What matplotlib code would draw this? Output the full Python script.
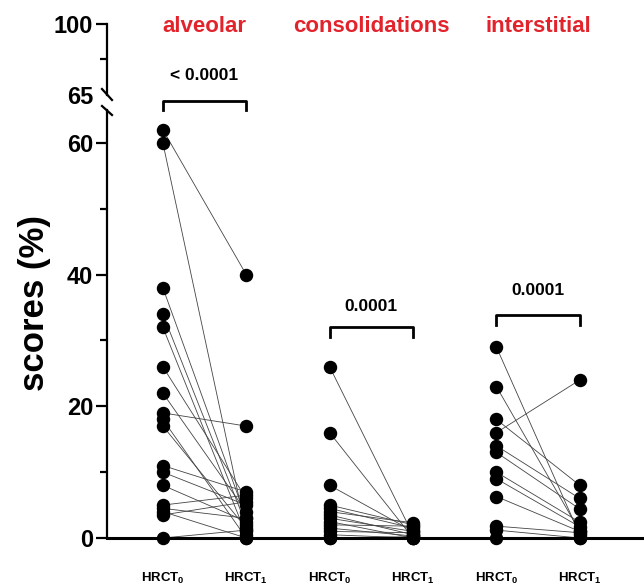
import matplotlib.pyplot as plt
from matplotlib.lines import Line2D
from matplotlib.transforms import blended_transform_factory

plt.rcParams['font.family'] = 'Liberation Sans'
plt.rcParams['font.weight'] = 'bold'
plt.rcParams['axes.labelweight'] = 'bold'
plt.rcParams['mathtext.fontset'] = 'custom'
plt.rcParams['mathtext.rm'] = 'Liberation Sans:bold'
plt.rcParams['mathtext.bf'] = 'Liberation Sans:bold'
plt.rcParams['mathtext.it'] = 'Liberation Sans:bold'

# Paired HRCT scores (%) per patient, before (0) and after (1)
groups = ['alveolar', 'consolidations', 'interstitial']
tick_labels = [r'HRCT$_0$', r'HRCT$_1$'] * 3
p_values = ['< 0.0001', '0.0001', '0.0001']

alveolar_t0 = [62, 60, 38, 34, 32, 26, 22, 19, 18, 17, 11, 10, 8, 5, 4.5, 4, 3.5, 0]
alveolar_t1 = [40, 1, 3, 2, 0.5, 6, 4, 17, 0, 1.5, 7, 5, 2.5, 6.5, 3, 0, 5.5, 1.2]

consolidations_t0 = [26, 16, 8, 5, 4.5, 4, 3.5, 3, 2.5, 2, 1.5, 1, 0.5, 0, 0]
consolidations_t1 = [0.5, 0, 1, 2, 1.5, 2.3, 0.5, 1, 0, 1.8, 0.3, 0.8, 0, 0.2, 0]

interstitial_t0 = [29, 23, 18, 16, 14, 13, 10, 9, 6.3, 1.8, 1.2, 0]
interstitial_t1 = [0.5, 1, 8, 24, 6, 4.4, 2.4, 1.7, 1, 0.8, 0, 0]

pairs = [(alveolar_t0, alveolar_t1),
         (consolidations_t0, consolidations_t1),
         (interstitial_t0, interstitial_t1)]

W, H = 644, 587
fig = plt.figure(figsize=(W / 100, H / 100), dpi=100)

left = 107 / W
ax = fig.add_axes([left, 1 - 538 / H, 1 - left, (538 - 110) / H])
ax_top = fig.add_axes([left, 1 - 95 / H, 1 - left, (95 - 24) / H])

# paired lines + dots
for i, (t0, t1) in enumerate(pairs):
    x0, x1 = 2 * i, 2 * i + 1
    for a, b in zip(t0, t1):
        ax.plot([x0, x1], [a, b], color='#444444', lw=0.6, zorder=2, clip_on=False)
    ax.scatter([x0] * len(t0), t0, s=75, color='black', zorder=3, clip_on=False)
    ax.scatter([x1] * len(t1), t1, s=75, color='black', zorder=3, clip_on=False)

ax.set_xlim(-0.67, 5.77)
ax.set_ylim(0, 65)
ax_top.set_xlim(-0.67, 5.77)
ax_top.set_ylim(65, 100)

for a in (ax, ax_top):
    a.spines['top'].set_visible(False)
    a.spines['right'].set_visible(False)
    a.spines['left'].set_linewidth(1.6)
    a.patch.set_visible(False)
ax_top.spines['bottom'].set_visible(False)
ax.spines['bottom'].set_linewidth(2.2)

ax.set_yticks([0, 20, 40, 60])
ax.set_yticks([10, 30, 50], minor=True)
ax_top.set_yticks([65, 100])
ax_top.set_yticks([82.5], minor=True)
ax_top.yaxis.get_major_ticks()[0].tick1line.set_visible(False)
for a in (ax, ax_top):
    a.tick_params(axis='y', which='major', length=8, width=1.6, labelsize=17, pad=2)
    a.tick_params(axis='y', which='minor', length=5, width=1.6)
ax_top.set_xticks([])

ax.set_xticks(range(6))
ax.set_xticklabels(tick_labels)
ax.tick_params(axis='x', length=4.5, width=1.8, labelsize=9.5, pad=19)

ax.set_ylabel('scores (%)', fontsize=25, fontweight='bold')
ax.yaxis.set_label_coords(-0.105, 0.55)

# axis break marks
for y_a, y_b in [(89, 100), (106, 115)]:
    fig.add_artist(Line2D([102 / W, 112 / W], [1 - y_a / H, 1 - y_b / H],
                          color='black', lw=1.6))

# significance brackets
brackets = [(66.4, 65.0, 70.3), (32.0, 30.5, 35.1), (33.8, 32.3, 37.6)]
for i, (yb, ye, yt) in enumerate(brackets):
    x0, x1 = 2 * i, 2 * i + 1
    ax.plot([x0, x0, x1, x1], [ye, yb, yb, ye], color='black', lw=2,
            clip_on=False, zorder=4)
    ax.text((x0 + x1) / 2, yt, p_values[i], ha='center', va='center',
            fontsize=12.5, fontweight='bold', clip_on=False)

# group titles (x in data units, y in figure units)
trans = blended_transform_factory(ax.transData, fig.transFigure)
for i, g in enumerate(groups):
    ax.text(2 * i + 0.5, 1 - 27 / H, g, transform=trans, ha='center',
            va='center', color='#e3232c', fontsize=16, fontweight='bold',
            clip_on=False)

fig.savefig('out.png', dpi=100)
